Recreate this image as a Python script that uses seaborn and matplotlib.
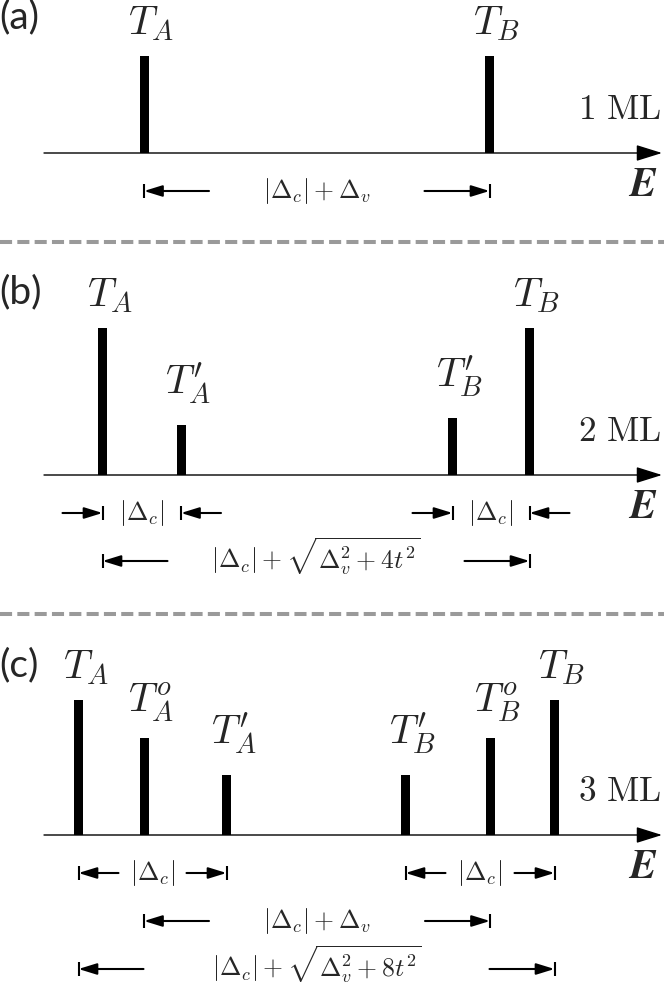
import numpy as np
import pandas as pd
import matplotlib
matplotlib.use("Agg")
import matplotlib.pyplot as plt
from matplotlib.lines import Line2D
import seaborn as sns

# peak positions along E (px) and peak heights
pos_1ml = [144, 489.5]
height_1ml = [97, 97]
labels_1ml = ["$T_A$", "$T_B$"]

pos_2ml = [102.5, 181, 452.5, 529.5]
height_2ml = [147, 50, 57, 147]
labels_2ml = ["$T_A$", r"$T^\prime_A$", r"$T^\prime_B$", "$T_B$"]

pos_3ml = [78.5, 144, 226.5, 405.5, 490, 554.5]
height_3ml = [135, 97, 60, 60, 97, 135]
labels_3ml = ["$T_A$", "$T^o_A$", r"$T^\prime_A$", r"$T^\prime_B$", "$T^o_B$", "$T_B$"]

# gaps: (left peak, right peak, row, label, arrows pointing in?)
dc = r"$|\Delta_c|$"
gaps_1ml = [(0, 1, 0, r"$|\Delta_c|+\Delta_v$", False)]
gaps_2ml = [(0, 1, 0, dc, True), (2, 3, 0, dc, True),
            (0, 3, 1, r"$|\Delta_c|+\sqrt{\Delta_v^2+4t^2}$", False)]
gaps_3ml = [(0, 2, 0, dc, False), (3, 5, 0, dc, False),
            (1, 4, 1, r"$|\Delta_c|+\Delta_v$", False),
            (0, 5, 2, r"$|\Delta_c|+\sqrt{\Delta_v^2+8t^2}$", False)]

sns.set_theme(style="white")
plt.rcParams["mathtext.fontset"] = "cm"
plt.rcParams["font.family"] = ["Lato", "DejaVu Sans"]

W, H = 664, 984
fig = plt.figure(figsize=(6.64, 9.84), dpi=100)

# tag, ML text, data, gaps, (top, axis line, bottom) in px, tag y
panels = [
    ("(a)", r"$1\ \mathrm{ML}$", pos_1ml, height_1ml, labels_1ml, gaps_1ml, 0, 153, 242, 136),
    ("(b)", r"$2\ \mathrm{ML}$", pos_2ml, height_2ml, labels_2ml, gaps_2ml, 242, 475, 614, 183),
    ("(c)", r"$3\ \mathrm{ML}$", pos_3ml, height_3ml, labels_3ml, gaps_3ml, 614, 835, 984, 170),
]

for tag, ml, pos, hgt, labs, gaps, top, base, bot, tag_y in panels:
    ax = fig.add_axes([0, 1 - bot / H, 1, (bot - top) / H])
    df = pd.DataFrame({"E": pos, "I": hgt})
    bar_w = 9 / np.diff(sorted(pos)).min()
    sns.barplot(data=df, x="E", y="I", native_scale=True, orient="x",
                color="black", saturation=1, width=bar_w, errorbar=None,
                linewidth=0, ax=ax)
    ax.set_xlim(0, W)
    ax.set_ylim(base - bot, base - top)
    ax.axis("off")

    # energy axis
    ax.annotate("", xy=(662, 0), xytext=(44, 0),
                arrowprops=dict(arrowstyle="-|>,head_length=1.6,head_width=0.5",
                                lw=1.0, color="black", shrinkA=0, shrinkB=0,
                                mutation_scale=10))
    ax.text(656, -33, "E", ha="right", va="center", family="STIXGeneral",
            style="italic", weight="bold", size=29)
    ax.text(661, 28, ml, ha="right", va="bottom", size=25.5)
    ax.text(-1, tag_y, tag, ha="left", va="center", size=28)

    for x, h, lab in zip(pos, hgt, labs):
        gap = 19 if "prime" in lab else 13
        ax.text(x + 7, h + gap, lab, ha="center", va="bottom", size=29)

    for i, j, row, lab, inward in gaps:
        xl, xr = pos[i], pos[j]
        y = -38 - 48 * row
        L = 40 if xr - xl < 200 else 65
        for xt, sgn in ((xl, 1), (xr, -1)):
            tail = xt - sgn * L if inward else xt + sgn * L
            ax.annotate("", xy=(xt, y), xytext=(tail, y),
                        arrowprops=dict(arrowstyle="-|>,head_length=1.1,head_width=0.34",
                                        lw=1.5, color="black", shrinkA=0, shrinkB=0,
                                        mutation_scale=10))
            ax.plot([xt, xt], [y - 7, y + 7], color="black", lw=1.5,
                    solid_capstyle="butt")
        ax.text((xl + xr) / 2, y - 7, lab, ha="center", va="baseline", size=18.5)

# dashed separators
for y_px in (242, 614):
    fig.add_artist(Line2D([0, 1], [1 - y_px / H] * 2, transform=fig.transFigure,
                          color="#9a9a9a", lw=2.9, linestyle=(0, (3, 1.3))))

fig.savefig("out.png", dpi=100)
